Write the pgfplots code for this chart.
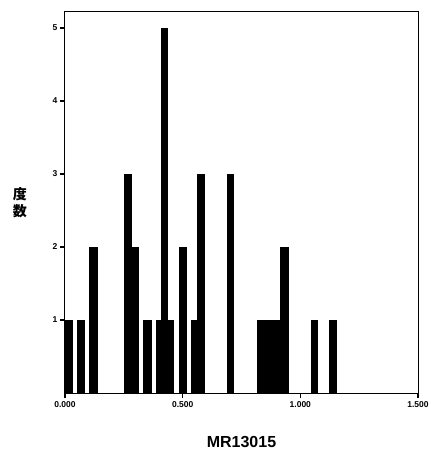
\documentclass[border=0pt]{standalone}
\usepackage{pgfplots}
\pgfplotsset{compat=1.18}
\usepackage{fontspec}
\setmainfont{Liberation Sans}
\newfontfamily\cjk{Noto Sans CJK JP}
\begin{document}
\begin{tikzpicture}
\begin{axis}[
  scale only axis,
  width=353pt, height=381pt,
  xmin=0, xmax=1.5, ymin=0, ymax=5.22,
  axis line style={line width=1pt},
  xtick={0,0.5,1,1.5},
  xticklabels={0.000,0.500,1.000,1.500},
  ytick={1,2,3,4,5},
  tick align=outside,
  major tick length=5pt,
  every tick/.style={line width=1.2pt, black},
  xtick pos=bottom, ytick pos=left,
  tick label style={font=\bfseries\fontsize{8.5}{9}\selectfont},
  yticklabel style={xshift=1pt},
  /pgf/number format/assume math mode=true,
  xlabel={MR13015},
  xlabel style={font=\bfseries\fontsize{16}{17}\selectfont, at={(axis description cs:0.5,-0.128)}, anchor=center},
  ylabel={\shortstack{度\\[1pt]数}},
  ylabel style={font=\cjk\bfseries\fontsize{14}{15}\selectfont, rotate=-90, at={(axis description cs:-0.128,0.5)}, anchor=center},
]
% frequency histogram, intervals given by their left edges
\addplot[ybar interval, fill=black, draw=black, line width=0.3pt] coordinates {
  (0.000,1) (0.030,0) (0.051,1) (0.081,0) (0.102,2) (0.136,0)
  (0.251,3) (0.281,2) (0.311,0) (0.332,1) (0.366,0)
  (0.387,1) (0.409,5) (0.434,1) (0.460,0) (0.485,2) (0.515,0)
  (0.536,1) (0.562,3) (0.591,0) (0.689,3) (0.715,0)
  (0.817,1) (0.915,2) (0.949,0) (1.047,1) (1.072,0)
  (1.123,1) (1.153,0)
};
\end{axis}
\pgfresetboundingbox
\path[use as bounding box] (-65pt,-60pt) rectangle (366pt,393pt);
\end{tikzpicture}
\end{document}
